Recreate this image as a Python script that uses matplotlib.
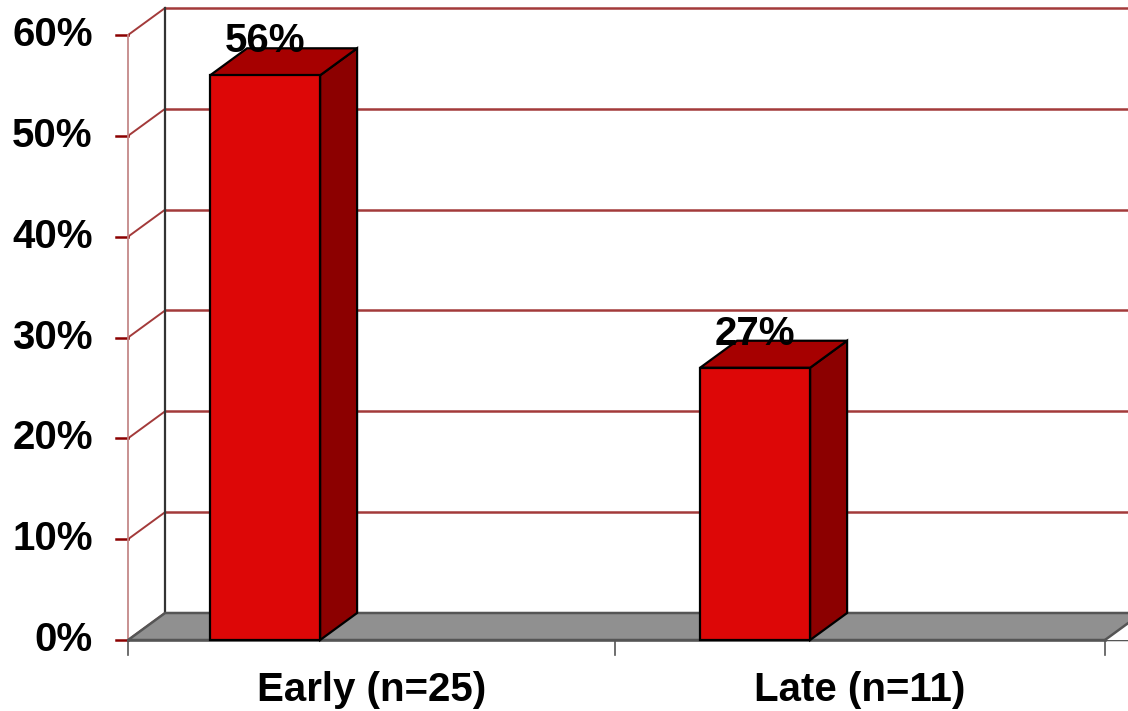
import matplotlib
matplotlib.use("Agg")
import matplotlib.pyplot as plt
from matplotlib.patches import Polygon

# Chart data
categories = ["Early (n=25)", "Late (n=11)"]
values = [56, 27]
value_labels = ["56%", "27%"]
y_ticks = [0, 10, 20, 30, 40, 50, 60]
y_tick_labels = ["0%", "10%", "20%", "30%", "40%", "50%", "60%"]

plt.rcParams["font.family"] = ["Liberation Sans", "DejaVu Sans"]

fig = plt.figure(figsize=(11.28, 7.11), dpi=100)
ax = fig.add_axes([0, 0, 1, 1])
ax.set_xlim(-0.541, 1.761)
ax.set_ylim(-7.04, 63.47)
ax.axis("off")

# pseudo-3D geometry (category units / percent units)
DX, DY = 0.0755, 2.68
bar_w = 0.2245
x_left = -0.2796
x_right = 1.714
bounds = [x_left, 0.714, x_right]
ymax = y_ticks[-1]
FS = 29

grid_c = "#A33A3A"
# back wall gridlines and diagonals to the front axis
for t, lab in zip(y_ticks, y_tick_labels):
    ax.plot([x_left + DX, 1.761], [t + DY, t + DY], color=grid_c, lw=1.8, zorder=1)
    ax.plot([x_left, x_left + DX], [t, t + DY], color=grid_c, lw=1.4, zorder=1)
    ax.plot([x_left - 0.024, x_left], [t, t], color="#8B0000", lw=1.8, zorder=2)
    ax.text(x_left - 0.072, t, lab, ha="right", va="center", fontsize=FS,
            fontweight="bold", color="black")

# back wall left edge and front value axis
ax.plot([x_left + DX, x_left + DX], [DY, ymax + DY], color="#333333", lw=1.6, zorder=1)
ax.plot([x_left, x_left], [0, ymax], color="#C48888", lw=1.3, zorder=2)

# floor
floor = Polygon([(x_left, 0), (x_left + DX, DY), (x_right + DX + 0.2, DY),
                 (x_right + 0.2, 0)], closed=True, facecolor="#909090",
                edgecolor="#555555", lw=1.8, zorder=2)
ax.add_patch(floor)
floor_end = Polygon([(x_right, 0), (x_right + DX, DY), (1.8, DY), (1.8, 0)],
                    closed=True, facecolor="white", edgecolor="none", zorder=2.5)
ax.add_patch(floor_end)
ax.plot([x_right, x_right + DX], [0, DY], color="#555555", lw=1.8, zorder=2.6)
ax.plot([x_left, x_right], [0, 0], color="#555555", lw=1.8, zorder=2.6)

# category axis ticks
for b in bounds:
    ax.plot([b, b], [0, -1.5], color="#555555", lw=1.2, zorder=2.6)

# bars
for i, v in enumerate(values):
    xl, xr = i - bar_w / 2, i + bar_w / 2
    front = Polygon([(xl, 0), (xr, 0), (xr, v), (xl, v)], closed=True,
                    facecolor="#DD0707", edgecolor="black", lw=1.6, zorder=4)
    side = Polygon([(xr, 0), (xr + DX, DY), (xr + DX, v + DY), (xr, v)],
                   closed=True, facecolor="#8C0000", edgecolor="black",
                   lw=1.6, zorder=3)
    top = Polygon([(xl, v), (xr, v), (xr + DX, v + DY), (xl + DX, v + DY)],
                  closed=True, facecolor="#A60000", edgecolor="black",
                  lw=1.6, zorder=3)
    for p in (side, top, front):
        ax.add_patch(p)
    ax.text(i, v + DY + 0.7, value_labels[i], ha="center", va="center",
            fontsize=FS, fontweight="bold", color="black", zorder=5)

# category labels
for i, c in enumerate(categories):
    ax.text((bounds[i] + bounds[i + 1]) / 2, -4.96, c, ha="center", va="center",
            fontsize=FS, fontweight="bold", color="black")

fig.savefig("out.png", dpi=100)
